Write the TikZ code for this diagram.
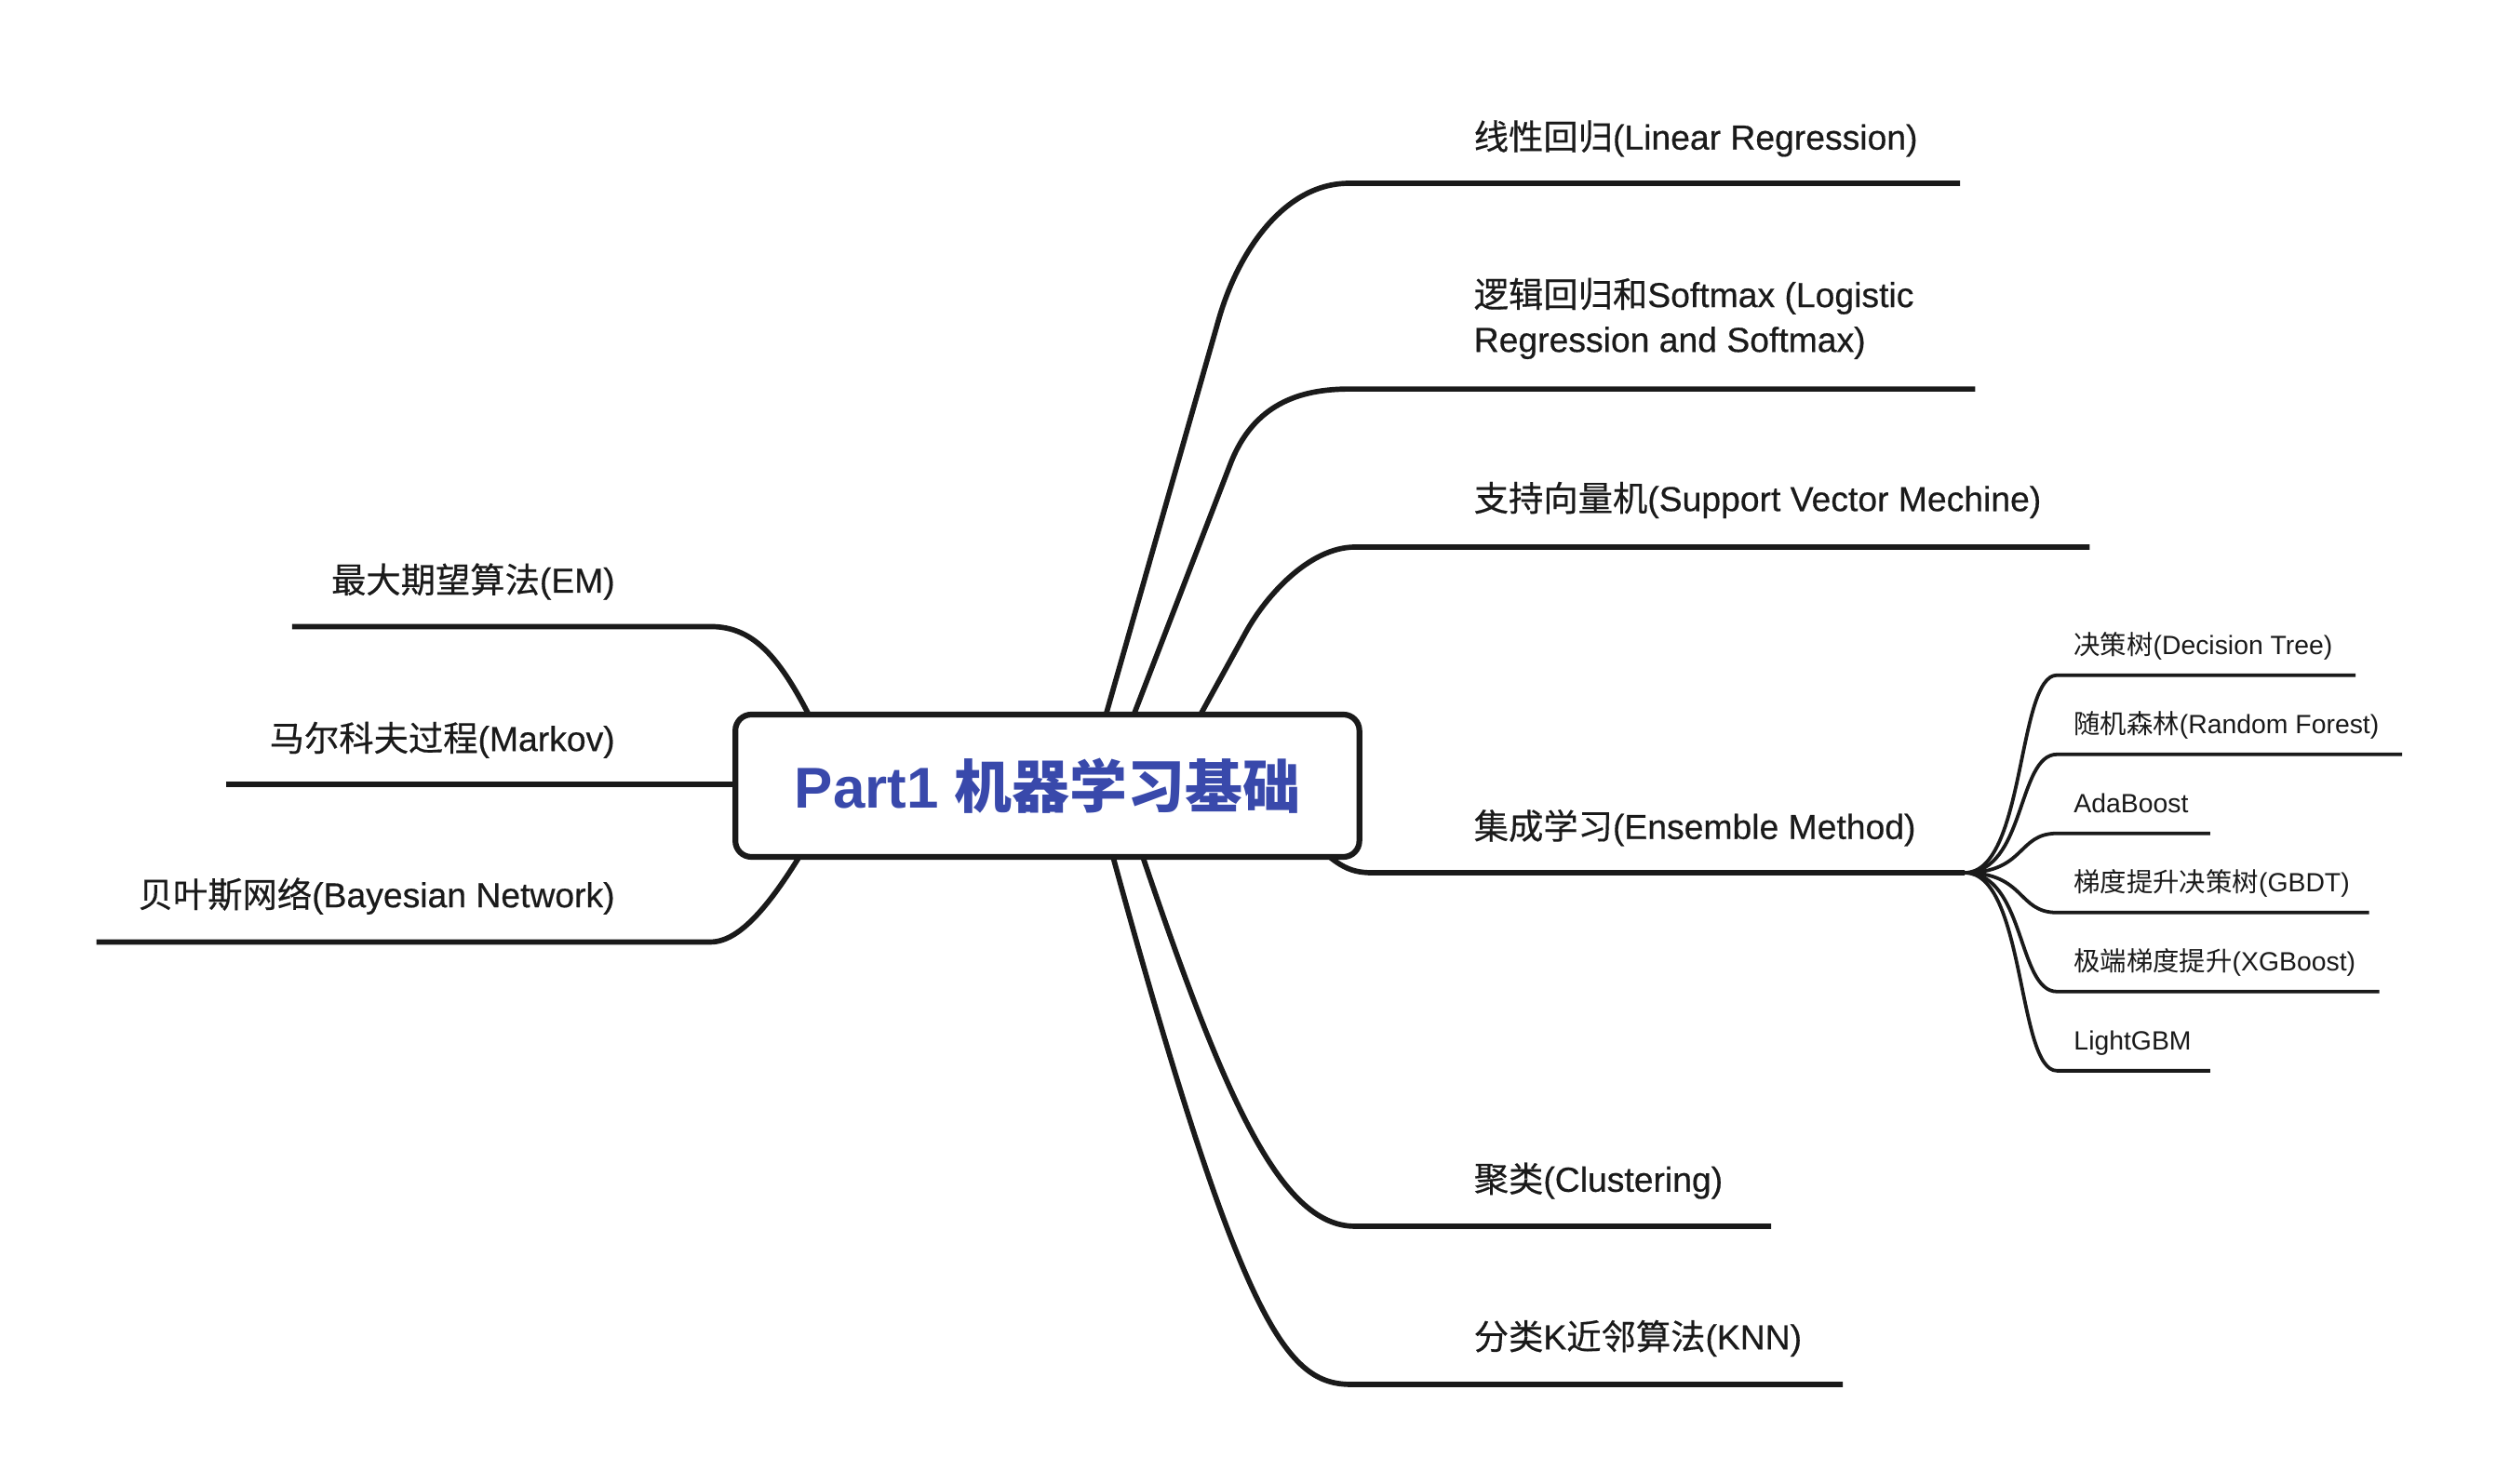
\documentclass[tikz,border=0pt]{standalone}
\usepackage{fontspec}
\setmainfont{Liberation Sans}
\newfontfamily\cjk{Noto Sans CJK SC}
\newfontfamily\latmed[FakeBold=0.45]{Liberation Sans}
\newfontfamily\cjkmed[FakeBold=0.45]{Noto Sans CJK SC}
\usetikzlibrary{calc}
\definecolor{ink}{HTML}{1A1A1A}
\definecolor{rootblue}{HTML}{3949AB}
\begin{document}
\begin{tikzpicture}[x=1pt,y=-1pt,
  conn/.style={draw=ink, line width=3.3pt},
  subconn/.style={draw=ink, line width=2.2pt},
  maintopic/.style={inner sep=0pt, anchor=base west, align=left, font=\fontsize{21.7}{28}\selectfont\latmed\let\zh\cjkmed, text=ink},
  lefttopic/.style={inner sep=0pt, anchor=base east, font=\fontsize{21.7}{28}\selectfont\latmed\let\zh\cjkmed, text=ink},
  subtopic/.style={inner sep=0pt, anchor=base west, font=\fontsize{16.5}{20}\selectfont\let\zh\cjk, text=ink},
  rootbox/.style={draw=ink, line width=3.6pt, fill=white, rounded corners=10pt, minimum width=390pt, minimum height=89pt, inner sep=0pt, font=\fontsize{36}{40}\selectfont\bfseries\let\zh\cjk, text=rootblue}]
\fill[white] (0,0) rectangle (1560,927.7);
\useasboundingbox (0,0) rectangle (1560,927.7);

% ---------- coordinates ----------
% right side
\coordinate (a1) at (684.6,470);  \coordinate (p1) at (761.6,200);
\coordinate (s1) at (843,114.6);  \coordinate (e1) at (1225,114.6);
\coordinate (a2) at (699.7,470);  \coordinate (p2) at (769,290);
\coordinate (s2) at (843.5,243.2);\coordinate (e2) at (1234.5,243.2);
\coordinate (a3) at (737.5,470);  \coordinate (p3) at (778.8,395);
\coordinate (s3) at (847,342);    \coordinate (e3) at (1306,342);
\coordinate (a4) at (812,518);    \coordinate (s4) at (858,545.6);
\coordinate (fan) at (1228,545.6);
\coordinate (a5) at (711,526);    \coordinate (s5) at (846.8,766.6);
\coordinate (e5) at (1107,766.6);
\coordinate (a6) at (693,526);    \coordinate (s6) at (845,865.5);
\coordinate (e6) at (1151.7,865.5);
% left side
\coordinate (e7) at (182.6,391.7); \coordinate (s7) at (444,391.7); \coordinate (a7) at (512,460);
\coordinate (e8) at (141.3,490.5); \coordinate (a8) at (520,490.5);
\coordinate (e9) at (60.3,588.9);  \coordinate (s9) at (444,588.9); \coordinate (a9) at (510,518);
% sub branches
\coordinate (u1) at (1285.6,422.1); \coordinate (v1) at (1472.2,422.1);
\coordinate (u2) at (1285.6,471.6); \coordinate (v2) at (1501.3,471.6);
\coordinate (u3) at (1285.6,521.0); \coordinate (v3) at (1381.3,521.0);
\coordinate (u4) at (1285.6,570.5); \coordinate (v4) at (1480.7,570.5);
\coordinate (u5) at (1285.6,619.9); \coordinate (v5) at (1487.0,619.9);
\coordinate (u6) at (1285.6,669.4); \coordinate (v6) at (1381.3,669.4);

% ---------- connectors ----------
\draw[conn] (a1) -- (p1) .. controls (773.9,156.7) and (803,114.6) .. (s1) -- (e1);
\draw[conn] (a2) -- (p2) .. controls (783.4,252.7) and (812,243.2) .. (s2) -- (e2);
\draw[conn] (a3) -- (p3) .. controls (790.9,373.1) and (818,342) .. (s3) -- (e3);
\draw[conn] (a4) .. controls (835,541) and (842,545.6) .. (s4) -- (fan);
\draw[conn] (a5) .. controls (764.7,685.8) and (800,766.6) .. (s5) -- (e5);
\draw[conn] (a6) .. controls (776.8,834) and (805,865.5) .. (s6) -- (e6);
\draw[conn] (e7) -- (s7) .. controls (472,391.7) and (489,412) .. (a7);
\draw[conn] (e8) -- (a8);
\draw[conn] (e9) -- (s9) .. controls (462,588.9) and (482,567) .. (a9);
\foreach \i in {1,...,6}{
  \draw[subconn] (fan) .. controls ($(fan)+(38,0)$) and ($(u\i)+(-25,0)$) .. (u\i) -- (v\i);
}

% ---------- root ----------
\node[rootbox] (root) at (654.6,491.2) {Part1 {\zh 机器学习基础}};

% ---------- topics ----------
\node[maintopic] (t1) at (921,93.5) {{\zh 线性回归}(Linear Regression)};
\node[maintopic] (t2) at (921,220) {{\zh 逻辑回归和}Softmax (Logistic\\Regression and Softmax)};
\node[maintopic] (t3) at (921,319.5) {{\zh 支持向量机}(Support Vector Mechine)};
\node[maintopic] (t4) at (921,524.5) {{\zh 集成学习}(Ensemble Method)};
\node[maintopic] (t5) at (921,745) {{\zh 聚类}(Clustering)};
\node[maintopic] (t6) at (921,843.6) {{\zh 分类}K{\zh 近邻算法}(KNN)};

\node[lefttopic] (t7) at (384.5,370.5) {{\zh 最大期望算法}(EM)};
\node[lefttopic] (t8) at (384.5,469.5) {{\zh 马尔科夫过程}(Markov)};
\node[lefttopic] (t9) at (384.5,567.2) {{\zh 贝叶斯网络}(Bayesian Network)};

\node[subtopic] (b1) at (1296,409.1) {{\zh 决策树}(Decision Tree)};
\node[subtopic] (b2) at (1296,458.6) {{\zh 随机森林}(Random Forest)};
\node[subtopic] (b3) at (1296,508.0) {AdaBoost};
\node[subtopic] (b4) at (1296,557.5) {{\zh 梯度提升决策树}(GBDT)};
\node[subtopic] (b5) at (1296,606.9) {{\zh 极端梯度提升}(XGBoost)};
\node[subtopic] (b6) at (1296,656.4) {LightGBM};
\end{tikzpicture}
\end{document}
